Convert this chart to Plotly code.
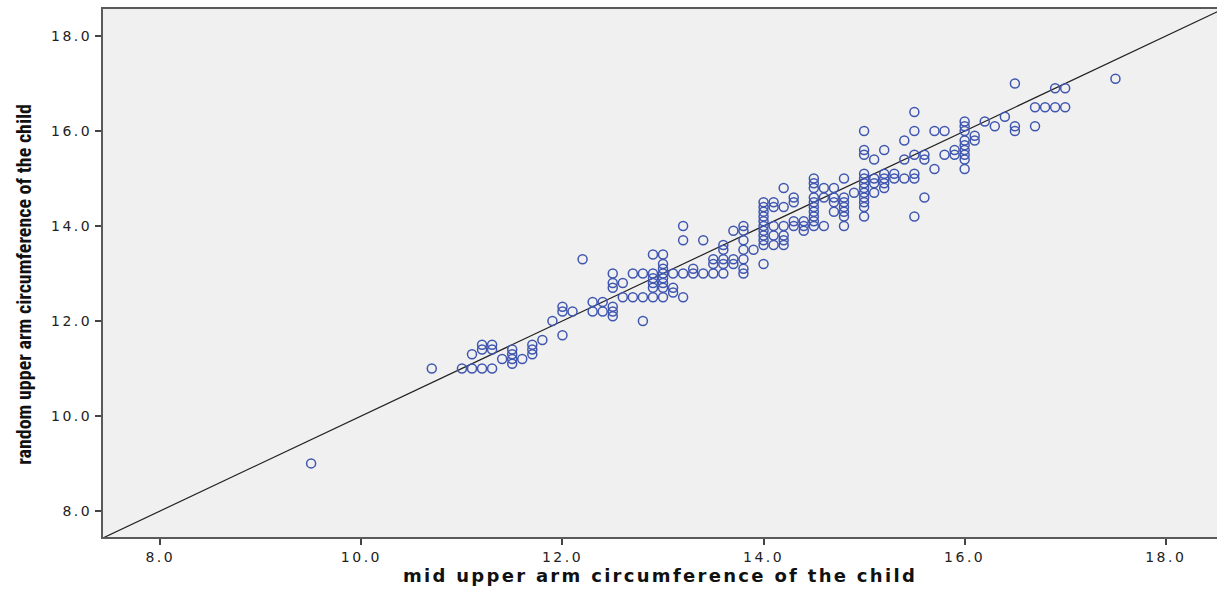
import plotly.graph_objects as go

# mid upper arm circumference (x) vs random upper arm circumference (y)
muac = [
    9.5, 10.7, 11.0, 11.1, 11.2, 11.3, 11.1, 11.2, 11.3, 11.2, 11.3, 11.4,
    11.5, 11.5, 11.5, 11.5, 11.6, 11.7, 11.7, 11.7, 11.8, 11.9, 12.0,
    12.0, 12.0, 12.1, 12.2, 12.3, 12.4, 12.3, 12.4, 12.5, 12.5, 12.5,
    12.5, 12.5, 12.5, 12.6, 12.6, 12.7, 12.8, 12.9, 13.0,
    12.7, 12.8, 12.9, 13.0, 13.1, 13.2, 13.3, 13.4, 13.5, 13.6,
    12.8, 12.9, 13.0, 13.0, 13.0, 12.9, 13.0, 12.9, 13.0, 12.9, 13.0,
    13.1, 13.1, 13.2, 13.3, 13.5, 13.5, 13.6, 13.6, 13.7, 13.7,
    13.2, 13.2, 13.4, 13.6, 13.6, 13.7, 13.8, 13.8,
    13.8, 13.8, 13.8, 13.8, 13.8, 13.9,
    14.0, 14.0, 14.0, 14.0, 14.0, 14.0, 14.0, 14.0, 14.0, 14.0, 14.0,
    14.1, 14.1, 14.1, 14.1, 14.1,
    14.2, 14.2, 14.2, 14.2, 14.2, 14.2,
    14.3, 14.3, 14.3, 14.3, 14.4, 14.4, 14.4,
    14.5, 14.5, 14.5, 14.5, 14.5, 14.5, 14.5, 14.5, 14.5, 14.5,
    14.6, 14.6, 14.6, 14.7, 14.7, 14.7, 14.7,
    14.8, 14.8, 14.8, 14.8, 14.8, 14.8, 14.8, 14.9,
    15.0, 15.0, 15.0, 15.0, 15.0, 15.0, 15.0, 15.0, 15.0, 15.0, 15.0, 15.0,
    15.1, 15.1, 15.1, 15.1, 15.2, 15.2, 15.2, 15.2, 15.2, 15.3, 15.3,
    15.4, 15.4, 15.4, 15.5, 15.5, 15.5, 15.5, 15.5, 15.5,
    15.6, 15.6, 15.6, 15.7, 15.7, 15.8, 15.8, 15.9, 15.9,
    16.0, 16.0, 16.0, 16.0, 16.0, 16.0, 16.0, 16.0, 16.0,
    16.1, 16.1, 16.2, 16.3, 16.4, 16.5, 16.5, 16.5,
    16.7, 16.7, 16.8, 16.9, 16.9, 17.0, 17.0, 17.5,
]
random_uac = [
    9.0, 11.0, 11.0, 11.0, 11.0, 11.0, 11.3, 11.5, 11.5, 11.4, 11.4, 11.2,
    11.4, 11.3, 11.2, 11.1, 11.2, 11.5, 11.4, 11.3, 11.6, 12.0, 11.7,
    12.3, 12.2, 12.2, 13.3, 12.4, 12.4, 12.2, 12.2, 12.3, 12.2, 12.1,
    13.0, 12.8, 12.7, 12.8, 12.5, 12.5, 12.5, 12.5, 12.5,
    13.0, 13.0, 13.0, 13.0, 13.0, 13.0, 13.0, 13.0, 13.0, 13.0,
    12.0, 13.4, 13.4, 13.2, 13.1, 12.9, 12.9, 12.8, 12.8, 12.7, 12.7,
    12.7, 12.6, 12.5, 13.1, 13.3, 13.2, 13.3, 13.2, 13.3, 13.2,
    14.0, 13.7, 13.7, 13.6, 13.5, 13.9, 14.0, 13.9,
    13.7, 13.5, 13.3, 13.1, 13.0, 13.5,
    14.5, 14.4, 14.3, 14.2, 14.1, 14.0, 13.9, 13.8, 13.7, 13.6, 13.2,
    14.5, 14.4, 14.0, 13.8, 13.6,
    14.8, 14.4, 14.0, 13.8, 13.7, 13.6,
    14.6, 14.5, 14.1, 14.0, 14.1, 14.0, 13.9,
    15.0, 14.9, 14.8, 14.6, 14.5, 14.4, 14.3, 14.2, 14.1, 14.0,
    14.8, 14.6, 14.0, 14.8, 14.6, 14.5, 14.3,
    15.0, 14.6, 14.5, 14.4, 14.3, 14.2, 14.0, 14.7,
    16.0, 15.6, 15.5, 15.1, 15.0, 14.9, 14.8, 14.7, 14.6, 14.5, 14.4, 14.2,
    15.4, 15.0, 14.9, 14.7, 15.6, 15.1, 15.0, 14.9, 14.8, 15.1, 15.0,
    15.8, 15.4, 15.0, 16.4, 16.0, 15.5, 15.1, 15.0, 14.2,
    15.5, 15.4, 14.6, 16.0, 15.2, 16.0, 15.5, 15.6, 15.5,
    16.2, 16.1, 16.0, 15.8, 15.7, 15.6, 15.5, 15.4, 15.2,
    15.9, 15.8, 16.2, 16.1, 16.3, 17.0, 16.1, 16.0,
    16.5, 16.1, 16.5, 16.9, 16.5, 16.9, 16.5, 17.1,
]

# reference line y = x
ref_line = [7.0, 19.0]

x_ticks = [8.0, 10.0, 12.0, 14.0, 16.0, 18.0]
y_ticks = [8.0, 10.0, 12.0, 14.0, 16.0, 18.0]


def wide(s, sp):
    return f'<span style="letter-spacing:{sp}px">{s}</span>'


fig = go.Figure()
fig.add_trace(go.Scatter(
    x=ref_line, y=ref_line, mode="lines",
    line=dict(color="#222222", width=1.2), hoverinfo="skip", showlegend=False,
))
fig.add_trace(go.Scatter(
    x=muac, y=random_uac, mode="markers",
    marker=dict(symbol="circle-open", size=9, color="#3f56b0", line=dict(width=1.5)),
    showlegend=False,
))

fig.update_layout(
    width=1217, height=589,
    margin=dict(l=103, r=0, t=9, b=52),
    paper_bgcolor="white", plot_bgcolor="#f0f0f0",
    font=dict(family="DejaVu Sans, Arial, sans-serif", color="#222222"),
)
fig.update_xaxes(
    range=[7.43, 18.51], tickvals=x_ticks,
    ticktext=[wide(f"{v:.1f}", 2.5) for v in x_ticks],
    showgrid=False, zeroline=False,
    showline=True, linecolor="#5a5a5a", linewidth=2, mirror=True,
    ticks="outside", ticklen=6, tickcolor="#444444", tickwidth=1.5,
    tickfont=dict(size=14, color="#222222"),
    title=dict(text=wide("<b>mid upper arm circumference of the child</b>", 2.3),
               font=dict(family="DejaVu Sans, Arial, sans-serif", size=18, color="#111111"),
               standoff=6),
)
fig.update_yaxes(
    range=[7.45, 18.57], tickvals=y_ticks,
    ticktext=[wide(f"{v:.1f}", 2.5) for v in y_ticks],
    showgrid=False, zeroline=False,
    showline=True, linecolor="#5a5a5a", linewidth=2,
    ticks="outside", ticklen=6, tickcolor="#444444", tickwidth=1.5,
    tickfont=dict(size=14, color="#222222"),
    title=dict(text="<b>random upper arm circumference of the child</b>" + "&nbsp;" * 5,
               font=dict(family="Liberation Sans Narrow, Arial Narrow, Roboto Condensed, sans-serif",
                         size=20, color="#111111"),
               standoff=14),
)

fig.write_html("out.html")
